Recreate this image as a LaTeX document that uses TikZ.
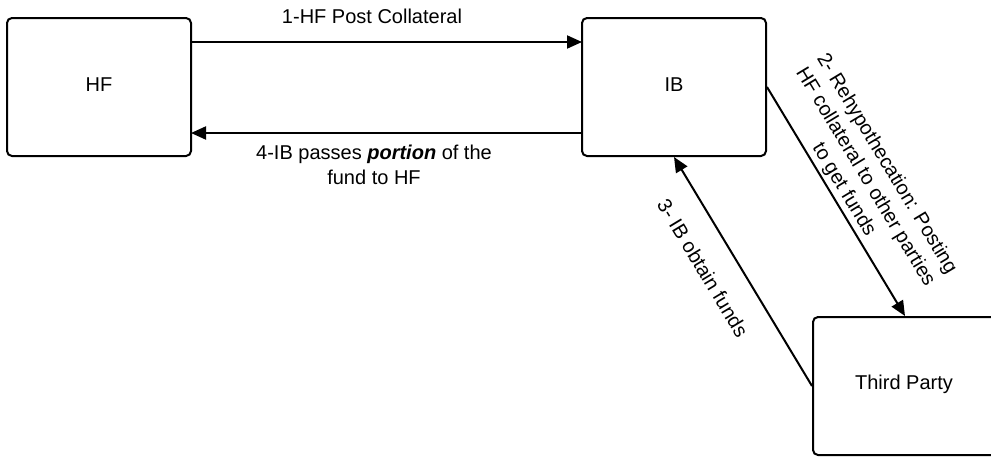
\documentclass[tikz,border=0pt]{standalone}
\usepackage{fontspec}
\setmainfont{Liberation Sans}
\usetikzlibrary{arrows.meta}
\begin{document}
\begin{tikzpicture}[x=1pt,y=-1pt,
  box/.style={draw,line width=2pt,rounded corners=5pt,minimum width=184pt,minimum height=138pt,inner sep=0pt},
  conn/.style={line width=2pt,-{Triangle[length=15pt,width=13pt]}},
  lbl/.style={font=\fontsize{20}{25}\selectfont,align=center,inner sep=0pt},
  every node/.style={font=\fontsize{20}{25}\selectfont}]
\useasboundingbox (0,0) rectangle (991,458);
\node[box] (hf) at (99,87) {};
\node[box] (ib) at (674,87) {};
\node[box] (tp) at (905,386) {};
\node at (99,85) {HF};
\node at (674,85) {IB};
\node at (904,384) {Third Party};
\coordinate (hfa) at (191,42);
\coordinate (iba) at (582,42);
\coordinate (hfb) at (191,133);
\coordinate (ibb) at (582,133);
\draw[conn] (hfa) -- (iba);
\draw[conn] (ibb) -- (hfb);
\draw[conn] (ib.east) -- (tp.north);
\draw[conn] (tp.west) -- (ib.south);
\node[lbl] (l1) at (372,16) {1-HF Post Collateral};
\node[lbl] (l4) at (374,165) {4-IB passes \textbf{\textit{portion}} of the\\fund to HF};
\node[lbl,rotate=-58.85] (l2) at (865,177) {2- Rehypothecation: Posting\\HF collateral to other parties\\to get funds};
\node[lbl,rotate=-58.85] (l3) at (703,268) {3- IB obtain funds};
\end{tikzpicture}
\end{document}
